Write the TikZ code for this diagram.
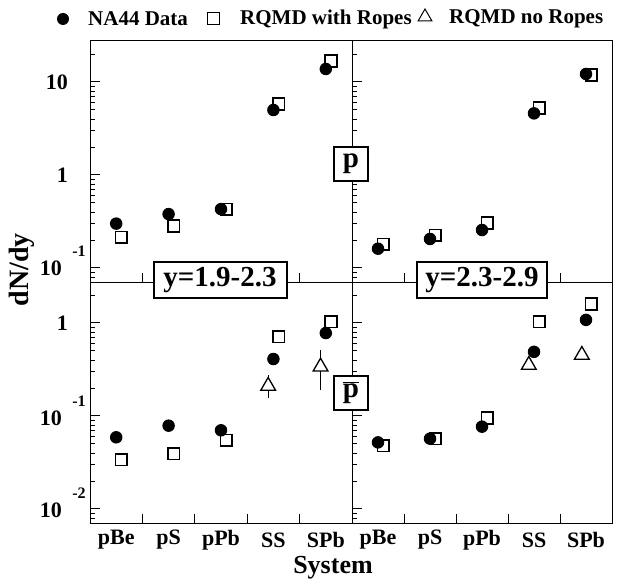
\documentclass[tikz,border=0pt]{standalone}
\usepackage{fontspec}
\setmainfont{Liberation Serif}
\usetikzlibrary{positioning,shapes.geometric}

\tikzset{
  frame/.style={line width=0.9pt},
  tck/.style={line width=1pt},
  na44/.style={circle, fill=black, inner sep=0pt, minimum size=12.5pt},
  ropes/.style={rectangle, draw, line width=1.6pt, inner sep=0pt, minimum size=11.5pt},
  noropes/.style={regular polygon, regular polygon sides=3, draw, fill=white,
    line width=1.3pt, inner sep=0pt, minimum size=17pt},
  errbar/.style={line width=1.3pt},
  numlab/.style={font=\fontsize{22}{24}\selectfont\bfseries, inner sep=0pt},
  explab/.style={font=\fontsize{16}{18}\selectfont\bfseries, inner sep=0pt},
  syslab/.style={font=\fontsize{22}{24}\selectfont\bfseries, inner sep=0pt},
  tag/.style={draw, line width=2pt, fill=white, inner sep=0pt,
    font=\fontsize{29}{31}\selectfont\bfseries},
  legtext/.style={font=\fontsize{21}{23}\selectfont\bfseries, inner sep=0pt, anchor=west}
}

\begin{document}
\begin{tikzpicture}[x=1pt,y=1pt]
  \useasboundingbox (0,0) rectangle (618,583);

  % frame of the four panels
  \draw[frame] (90,60) rectangle (612,543);
  \draw[frame] (352,60) -- (352,543);
  \draw[frame] (90,301) -- (612,301);

  % log ticks and system ticks, one scope per panel
  \foreach \px/\py/\dx/\lo/\hi in {90/408/52.4/-1.15/1.45, 352/408/52/-1.15/1.45,
                                   90/260/52.4/-2.15/0.44, 352/260/52/-2.15/0.44}{
    \begin{scope}[shift={(\px pt,\py pt)}, x=\dx pt, y=93pt]
      \foreach \d in {-3,...,1}{
        \pgfmathtruncatemacro\inr{(\d>\lo)&&(\d<\hi)}
        \ifnum\inr=1 \draw[tck] (0,\d) -- ++(10pt,0); \fi
        \foreach \k in {2,...,9}{
          \pgfmathsetmacro\v{\d+log10(\k)}
          \pgfmathtruncatemacro\inr{(\v>\lo)&&(\v<\hi)}
          \ifnum\inr=1 \draw[tck] (0,\v) -- ++(5pt,0); \fi
        }
      }
      \foreach \i in {1,...,4} \draw[tck] (\i,\lo) -- ++(0,9pt);
    \end{scope}
  }

  % p, y=1.9-2.3
  \begin{scope}[shift={(90pt,408pt)}, x=52.4pt, y=93pt]
    \foreach \r/\n [count=\c] in {0.215/0.30, 0.283/0.38, 0.43/0.43, 5.8/5.0, 16.8/13.8}{
      \node[ropes] (sqA\c) at (\c-0.4,{log10(\r)}) {};
      \node[na44]  (ptA\c) at (\c-0.5,{log10(\n)}) {};
    }
  \end{scope}

  % p, y=2.3-2.9
  \begin{scope}[shift={(352pt,408pt)}, x=52pt, y=93pt]
    \foreach \r/\n [count=\c] in {0.18/0.16, 0.226/0.205, 0.305/0.256, 5.25/4.6, 11.9/12.2}{
      \node[ropes] (sqB\c) at (\c-0.4,{log10(\r)}) {};
      \node[na44]  (ptB\c) at (\c-0.5,{log10(\n)}) {};
    }
  \end{scope}

  % pbar, y=1.9-2.3
  \begin{scope}[shift={(90pt,260pt)}, x=52.4pt, y=93pt]
    \foreach \r [count=\c] in {0.033, 0.039, 0.055, 0.71, 1.03}
      \node[ropes] (sqC\c) at (\c-0.4,{log10(\r)}) {};
    \coordinate (trC4) at (3.4,-0.677);
    \coordinate (trC5) at (4.4,-0.47);
    \draw[errbar] ([yshift=-12pt]trC4) -- ([yshift=11pt]trC4);
    \draw[errbar] ([yshift=-23pt]trC5) -- ([yshift=17pt]trC5);
    \node[noropes] (nrC4) at (trC4) {};
    \node[noropes] (nrC5) at (trC5) {};
    \foreach \n [count=\c] in {0.059, 0.078, 0.069, 0.41, 0.78}
      \node[na44] (ptC\c) at (\c-0.5,{log10(\n)}) {};
  \end{scope}

  % pbar, y=2.3-2.9
  \begin{scope}[shift={(352pt,260pt)}, x=52pt, y=93pt]
    \foreach \r [count=\c] in {0.048, 0.057, 0.095, 1.03, 1.6}
      \node[ropes] (sqD\c) at (\c-0.4,{log10(\r)}) {};
    \node[noropes] (nrD4) at (3.4,-0.452) {};
    \node[noropes] (nrD5) at (4.42,-0.344) {};
    \foreach \n [count=\c] in {0.052, 0.057, 0.076, 0.49, 1.08}
      \node[na44] (ptD\c) at (\c-0.5,{log10(\n)}) {};
  \end{scope}

  % y axis numbers
  \node[numlab, anchor=east] (ya1) at (68,501) {10};
  \node[numlab, anchor=east] (ya0) at (68,408) {1};
  \node[numlab, anchor=east] (yam) at (62,315) {10};
  \node[explab] (yame) at (79,332) {-1};
  \node[numlab, anchor=east] (yb0) at (68,260) {1};
  \node[numlab, anchor=east] (ybm) at (62,165) {10};
  \node[explab] (ybme) at (79,182) {-1};
  \node[numlab, anchor=east] (ybn) at (62,73) {10};
  \node[explab] (ybne) at (79,90) {-2};

  % system names
  \foreach \s [count=\c] in {pBe,pS,pPb,SS,SPb}{
    \node[syslab] (sA\c) at (90+52.4*\c-26.2,43) {\s};
    \node[syslab] (sB\c) at (352+52*\c-26,43) {\s};
  }

  % axis titles
  \node[font=\fontsize{28}{30}\selectfont\bfseries, rotate=90] (ytitle) at (22,313) {dN/dy};
  \node[font=\fontsize{26}{28}\selectfont\bfseries, inner sep=0pt] (xtitle) at (333,15) {System};

  % tags
  \node[tag, minimum width=34pt, minimum height=34pt] (ptag) at (351,419) {p};
  \node[tag, minimum width=34pt, minimum height=34pt] (pbtag) at (351,190) {$\overline{\mbox{p}}$};
  \node[tag, minimum width=133pt, minimum height=36pt] (rapA) at (220,303) {y=1.9-2.3};
  \node[tag, minimum width=130pt, minimum height=36pt] (rapB) at (482,303) {y=2.3-2.9};

  % legend
  \node[na44, minimum size=12pt] (kna) at (63,564) {};
  \node[legtext] (tna) at (88,564) {NA44 Data};
  \node[ropes, line width=1pt, minimum size=12pt] (kwr) at (213,564) {};
  \node[legtext] (twr) at (240,564) {RQMD with Ropes};
  \node[noropes, line width=1pt, minimum size=16pt] (knr) at (425,566) {};
  \node[legtext] (tnr) at (449,564) {RQMD no Ropes};
\end{tikzpicture}
\end{document}
